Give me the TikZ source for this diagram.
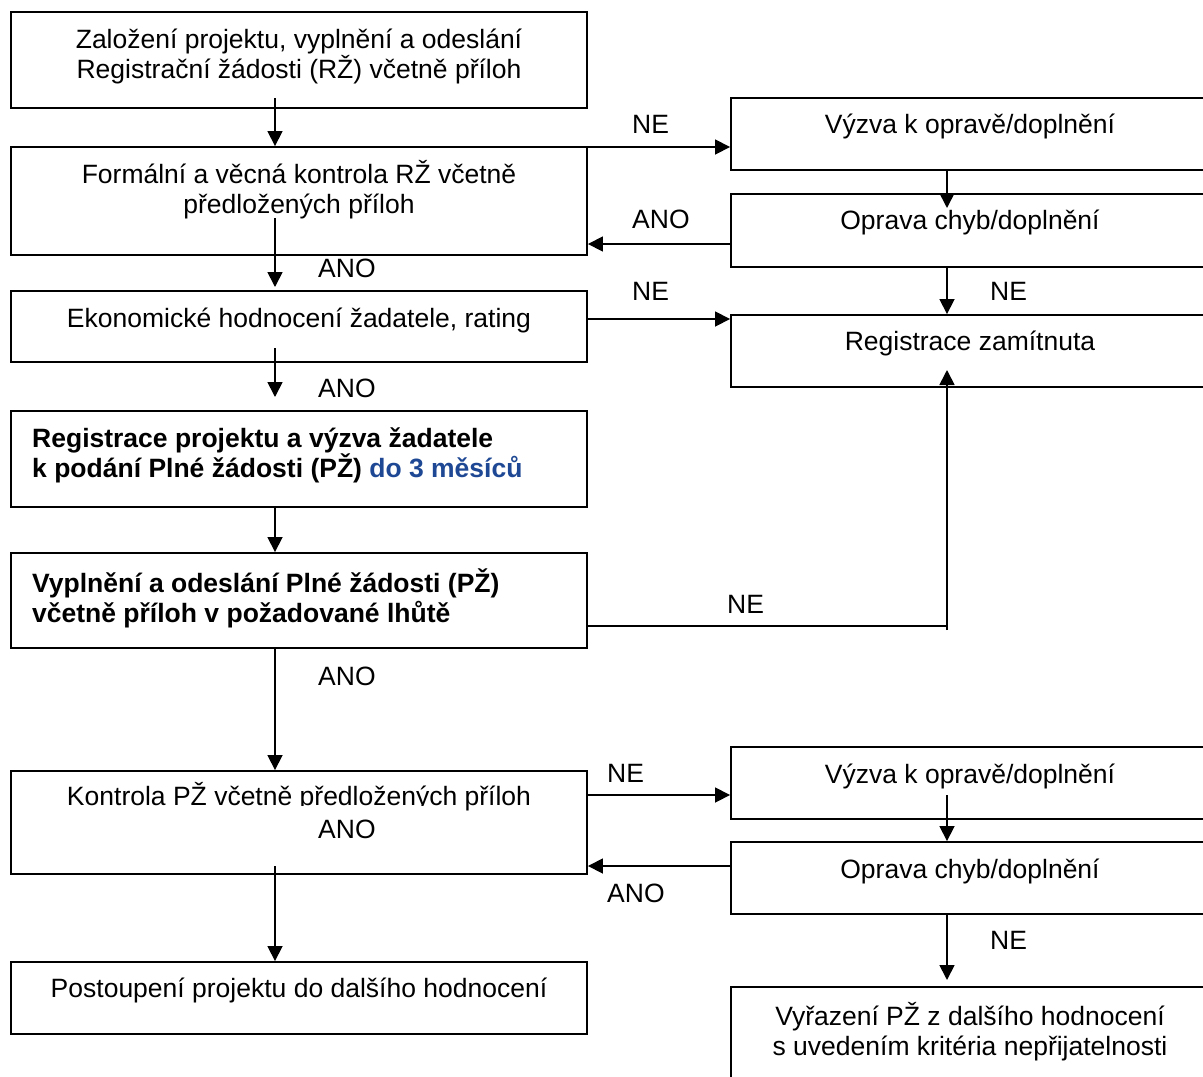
\documentclass[tikz,border=0pt]{standalone}
\usepackage{fontspec}
\setmainfont{Liberation Sans}
\usetikzlibrary{arrows.meta}
\definecolor{dblue}{RGB}{30,72,148}
\begin{document}
\begin{tikzpicture}[x=1pt,y=-1pt,
  box/.style={draw, line width=1.9pt, inner sep=0pt, rectangle},
  lbox/.style={box, minimum width=576pt},
  rbox/.style={box, minimum width=478pt},
  txt/.style={inner sep=0pt, font=\fontsize{26.5}{29.5}\selectfont, align=center, anchor=base},
  btxt/.style={inner sep=0pt, font=\fontsize{26.5}{29.5}\selectfont\bfseries, align=left, anchor=base west},
  lbl/.style={inner sep=0pt, font=\fontsize{26.5}{29.5}\selectfont, anchor=base west},
  arr/.style={line width=1.7pt, -{Triangle[length=15pt,width=15pt]}},
  ln/.style={line width=1.7pt}]
\clip (0,0) rectangle (1203,1077);
\fill[white] (0,0) rectangle (1203,1077);

% left column boxes
\node[lbox, minimum height=96pt]  (b1) at (299,60) {};
\node[lbox, minimum height=108pt] (b2) at (299,201) {};
\node[lbox, minimum height=71pt]  (b3) at (299,326.5) {};
\node[lbox, minimum height=96pt]  (b4) at (299,459) {};
\node[lbox, minimum height=95pt]  (b5) at (299,600.5) {};
\node[lbox, minimum height=103pt] (b6) at (299,822.5) {};
\node[lbox, minimum height=72pt]  (b7) at (299,998) {};

% right column boxes
\node[rbox, minimum height=72pt]  (r1) at (970,134) {};
\node[rbox, minimum height=73pt]  (r2) at (970,230.5) {};
\node[rbox, minimum height=72pt]  (r3) at (970,351) {};
\node[rbox, minimum height=72pt]  (r4) at (970,783) {};
\node[rbox, minimum height=72pt]  (r5) at (970,878) {};
\node[rbox, minimum height=113pt] (r6) at (970,1043.5) {};

% texts (base anchor = baseline of last line)
\node[txt] (t1) at (299,78) {Založení projektu, vyplnění a odeslání\\Registrační žádosti (RŽ) včetně příloh};
\node[txt] (t2) at (299,213) {Formální a věcná kontrola RŽ včetně\\předložených příloh};
\node[txt] (t3) at (299,327) {Ekonomické hodnocení žadatele, rating};
\node[btxt] (t4) at (32,477) {Registrace projektu a výzva žadatele\\k podání Plné žádosti (PŽ) \textcolor{dblue}{do 3 měsíců}};
\node[btxt] (t5) at (32,622) {Vyplnění a odeslání Plné žádosti (PŽ)\\včetně příloh v požadované lhůtě};
\node[txt] (t6) at (299,805) {Kontrola PŽ včetně předložených příloh};
\node[txt] (t7) at (299,997) {Postoupení projektu do dalšího hodnocení};

\node[txt] (u1) at (970,133) {Výzva k opravě/doplnění};
\node[txt] (u2) at (970,229) {Oprava chyb/doplnění};
\node[txt] (u3) at (970,350) {Registrace zamítnuta};
\node[txt] (u4) at (970,783) {Výzva k opravě/doplnění};
\node[txt] (u5) at (970,878) {Oprava chyb/doplnění};
\node[txt] (u6) at (970,1055) {Vyřazení PŽ z dalšího hodnocení\\s uvedením kritéria nepřijatelnosti};

% connector coordinates
\coordinate (s1) at (275,98);
\coordinate (e3) at (947,208);
\coordinate (s5) at (275,218);
\coordinate (e5) at (275,287);
\coordinate (s8) at (275,348);
\coordinate (e8) at (275,397);
\coordinate (k10) at (947,626);
\coordinate (s10) at (947,630);
\coordinate (e10) at (947,370);
\coordinate (s13) at (947,795);
\coordinate (s15) at (275,866);
\coordinate (e16) at (947,980);

% connectors
\draw[arr] (s1) -- (s1 |- b2.north);
\draw[arr] (b2.east |- 0,147) -- (r1.west |- 0,147);
\draw[arr] (e3 |- r1.south) -- (e3);
\draw[arr] (r2.west |- 0,244) -- (b2.east |- 0,244);
\draw[arr] (s5) -- (e5);
\draw[arr] (947,0 |- r2.south) -- (947,0 |- r3.north);
\draw[arr] (b3.east |- 0,319) -- (r3.west |- 0,319);
\draw[arr] (s8) -- (e8);
\draw[arr] (275,0 |- b4.south) -- (275,0 |- b5.north);
\draw[ln] (b5.east |- k10) -- (k10);
\draw[arr] (s10) -- (e10);
\draw[arr] (275,0 |- b5.south) -- (275,0 |- b6.north);
\draw[arr] (b6.east |- 0,795) -- (r4.west |- 0,795);
\draw[arr] (s13) -- (s13 |- r5.north);
\draw[arr] (r5.west |- 0,866) -- (b6.east |- 0,866);
\draw[arr] (s15) -- (s15 |- b7.north);
\draw[arr] (e16 |- r5.south) -- (e16);

% labels
\node[lbl] (l1) at (632,133) {NE};
\node[lbl] (l2) at (632,228) {ANO};
\node[lbl] (l3) at (318,277) {ANO};
\node[lbl] (l4) at (632,300) {NE};
\node[lbl] (l5) at (990,300) {NE};
\node[lbl] (l6) at (318,397) {ANO};
\node[lbl] (l7) at (727,613) {NE};
\node[lbl] (l8) at (318,685) {ANO};
\node[lbl] (l9) at (607,782) {NE};
\node[lbl, fill=white, anchor=north west, inner xsep=18pt, inner ysep=0pt, text width=94pt, minimum height=46pt] (l10) at (300,806) {ANO};
\node[lbl] (l11) at (607,902) {ANO};
\node[lbl] (l12) at (990,949) {NE};
\end{tikzpicture}
\end{document}
